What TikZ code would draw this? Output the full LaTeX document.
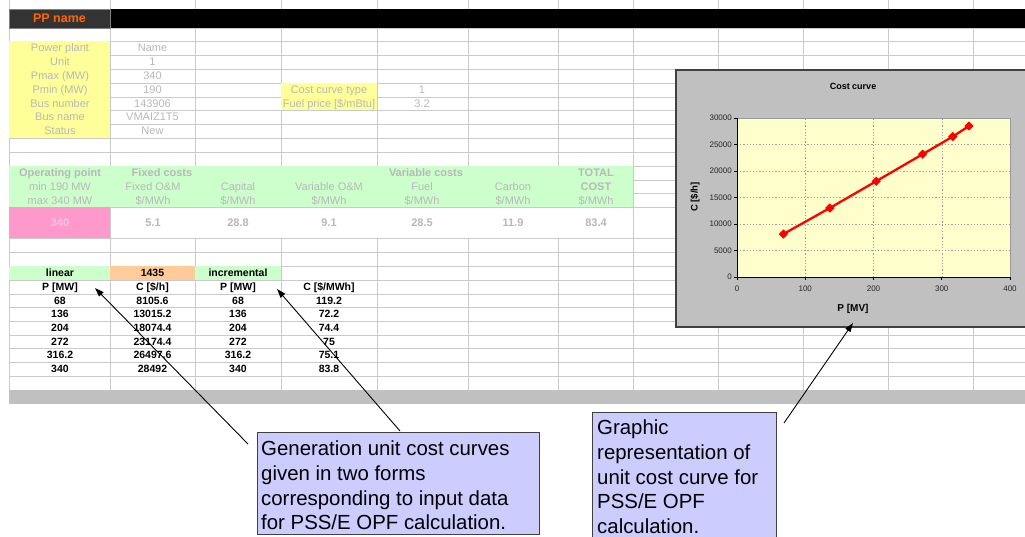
\documentclass[tikz,border=0pt]{standalone}
\usepackage{fontspec}
\setmainfont{Liberation Sans}
\usetikzlibrary{arrows.meta,shapes.geometric}

\definecolor{gridline}{HTML}{CACACA}
\definecolor{hdrgreen}{HTML}{CCFFCC}
\definecolor{paleyellow}{HTML}{FFFF99}
\definecolor{pinkcell}{HTML}{FF99CC}
\definecolor{pinktext}{HTML}{FFC4E2}
\definecolor{orangecell}{HTML}{FFCC99}
\definecolor{lavender}{HTML}{CCCCFF}
\definecolor{fadedtext}{HTML}{B8B8B8}
\definecolor{plotbg}{HTML}{FFFFCC}
\definecolor{chartgray}{HTML}{C0C0C0}
\definecolor{ppname}{HTML}{FF6600}
\definecolor{darkcell}{HTML}{333333}
\definecolor{boxedge}{HTML}{404040}
\definecolor{plotgrid}{HTML}{9A9A9A}

\tikzset{
  cell/.style={inner sep=0pt, text height=7.9pt, text depth=0pt,
    font=\fontsize{11}{13}\selectfont, text=fadedtext},
  cellbold/.style={cell, font=\fontsize{11}{13}\selectfont\bfseries},
  datacell/.style={inner sep=0pt, text height=7.6pt, text depth=0pt,
    font=\fontsize{10.5}{12}\selectfont\bfseries, text=black},
  ticklabel/.style={inner sep=0pt, font=\fontsize{8}{9}\selectfont, text=black!85},
  charttitle/.style={inner sep=0pt, font=\fontsize{9}{11}\selectfont\bfseries},
  callout/.style={draw=boxedge, line width=1pt, fill=lavender, inner sep=0pt, anchor=north west},
  callouttext/.style={inner sep=0pt, anchor=north west, align=left,
    font=\fontsize{20.4}{24.6}\selectfont},
  pointer/.style={draw=black, line width=0.9pt, -{Triangle[length=9pt,width=6pt]}},
  marker/.style={diamond, fill=red, inner sep=0pt, minimum size=9.5pt},
  sheetline/.style={draw=gridline, line width=0.8pt},
  plotgridline/.style={draw=plotgrid, line width=0.5pt, dash pattern=on 1.2pt off 2pt},
}

\begin{document}
\begin{tikzpicture}[x=1pt,y=-1pt]
\useasboundingbox (0,0) rectangle (1025,537);
\clip (0,0) rectangle (1025,537);
\fill[white] (0,0) rectangle (1025,537);

% ---------- spreadsheet grid ----------
\foreach \cx in {9,110,195,281,377,468,558,633,718,803,888,973}
  \draw[sheetline] (\cx,0) -- (\cx,390);
\foreach \ry in {28,41,55,69,83,97,110,124,138,152,166,180,193,207,238,252,266,280,294,307,321,335,348,362,376,390}
  \draw[sheetline] (9,\ry) -- (1025,\ry);

% ---------- cell fills ----------
\fill[black] (9,9) rectangle (1025,28);
\fill[paleyellow] (9,41) rectangle (110,138);
\fill[paleyellow] (281,83) rectangle (377,110);
\fill[hdrgreen] (9,166) rectangle (633,207);
\fill[white] (110.5,207.6) rectangle (632.5,237.6);
\fill[pinkcell] (9,207) rectangle (110,238);
\fill[hdrgreen] (9,266) rectangle (110,280);
\fill[orangecell] (110,266) rectangle (195,280);
\fill[hdrgreen] (195,266) rectangle (281,280);
\fill[chartgray] (9,390) rectangle (1025,404);

% ---------- title cell ----------
\node[draw=gray, fill=darkcell, minimum width=101pt, minimum height=19pt, inner sep=0pt,
  text=ppname, font=\fontsize{12.5}{14}\selectfont\bfseries] (ppName) at (59.5,18.5) {PP name};

% ---------- unit data ----------
\node[cell] (lPlant)  at (60,48)    {Power plant};
\node[cell] (lUnit)   at (60,62)    {Unit};
\node[cell] (lPmax)   at (60,76)    {Pmax (MW)};
\node[cell] (lPmin)   at (60,90)    {Pmin (MW)};
\node[cell] (lBusNo)  at (60,103.5) {Bus number};
\node[cell] (lBusNm)  at (60,117)   {Bus name};
\node[cell] (lStatus) at (60,131)   {Status};
\node[cell] (vPlant)  at (152.5,48)    {Name};
\node[cell] (vUnit)   at (152.5,62)    {1};
\node[cell] (vPmax)   at (152.5,76)    {340};
\node[cell] (vPmin)   at (152.5,90)    {190};
\node[cell] (vBusNo)  at (152.5,103.5) {143906};
\node[cell] (vBusNm)  at (152.5,117)   {VMAIZ1T5};
\node[cell] (vStatus) at (152.5,131)   {New};
\node[cell] (lCurve)  at (329,90)    {Cost curve type};
\node[cell] (lFuelPr) at (329,103.5) {Fuel price [\$/mBtu]};
\node[cell] (vCurve)  at (422,90)    {1};
\node[cell] (vFuelPr) at (422,103.5) {3.2};

% ---------- cost breakdown header ----------
\node[cellbold] (hOp)    at (60,173)  {Operating point};
\node[cell]     (hOpMin) at (60,187)  {min 190 MW};
\node[cell]     (hOpMax) at (60,201)  {max 340 MW};
\node[cellbold] (hFixed) at (162,173) {Fixed costs};
\node[cell]     (hFom)   at (153,187) {Fixed O\&M};
\node[cell]     (hFomU)  at (153,201) {\$/MWh};
\node[cell]     (hCap)   at (238,187) {Capital};
\node[cell]     (hCapU)  at (238,201) {\$/MWh};
\node[cell]     (hVom)   at (329,187) {Variable O\&M};
\node[cell]     (hVomU)  at (329,201) {\$/MWh};
\node[cellbold] (hVar)   at (426,173) {Variable costs};
\node[cell]     (hFuel)  at (422,187) {Fuel};
\node[cell]     (hFuelU) at (422,201) {\$/MWh};
\node[cell]     (hCarb)  at (513,187) {Carbon};
\node[cell]     (hCarbU) at (513,201) {\$/MWh};
\node[cellbold] (hTot)   at (596,173) {TOTAL};
\node[cellbold] (hTot2)  at (596,187) {COST};
\node[cell]     (hTotU)  at (596,201) {\$/MWh};

% ---------- cost breakdown values ----------
\node[cellbold, text=pinktext] (cOp) at (60,222.5) {340};
\node[cellbold] (cFom)  at (153,222.5) {5.1};
\node[cellbold] (cCap)  at (238,222.5) {28.8};
\node[cellbold] (cVom)  at (329,222.5) {9.1};
\node[cellbold] (cFuel) at (422,222.5) {28.5};
\node[cellbold] (cCarb) at (513,222.5) {11.9};
\node[cellbold] (cTot)  at (596,222.5) {83.4};

% ---------- cost curve tables ----------
\node[datacell] (tLinear) at (60,273)    {linear};
\node[datacell] (tCount)  at (152.5,273) {1435};
\node[datacell] (tIncr)   at (238,273)   {incremental};
\node[datacell] (tP1)     at (60,287)    {P [MW]};
\node[datacell] (tC1)     at (152.5,287) {C [\$/h]};
\node[datacell] (tP2)     at (238,287)   {P [MW]};
\node[datacell] (tC2)     at (329,287)   {C [\$/MWh]};
\foreach \k/\ty/\pa/\ca/\pb/\cb in {
    1/300.5/68/8105.6/68/119.2,
    2/314/136/13015.2/136/72.2,
    3/328/204/18074.4/204/74.4,
    4/341.5/272/23174.4/272/75,
    5/355/316.2/26497.6/316.2/75.1,
    6/369/340/28492/340/83.8}{
  \node[datacell] (linP\k) at (60,\ty)    {\pa};
  \node[datacell] (linC\k) at (152.5,\ty) {\ca};
  \node[datacell] (incP\k) at (238,\ty)   {\pb};
  \node[datacell] (incC\k) at (329,\ty)   {\cb};
}

% ---------- cost curve chart ----------
\draw[fill=chartgray, draw=boxedge, line width=1.5pt] (676,70) rectangle (1040,327);
\draw[fill=plotbg, draw=plotgrid, line width=0.6pt] (737,118) rectangle (1010,277);
\begin{scope}[shift={(737,277)}, x=0.6825pt, y=5.3pt]
  \foreach \gx in {100,200,300}
    \draw[plotgridline] (\gx,0) -- (\gx,30);
  \foreach \gy in {5,10,15,20,25}
    \draw[plotgridline] (0,\gy) -- (400,\gy);
  \draw[black, line width=0.7pt] (0,30) -- (0,0) -- (400,0);
  \foreach \gy/\lab in {0/0,5/5000,10/10000,15/15000,20/20000,25/25000,30/30000}{
    \draw[black, line width=0.6pt] (0,\gy) -- ++(-3pt,0);
    \node[ticklabel, anchor=east, xshift=-5pt] (yTick\gy) at (0,\gy) {\lab};
  }
  \foreach \gx in {0,100,200,300,400}{
    \draw[black, line width=0.6pt] (\gx,0) -- ++(0,-3pt);
    \node[ticklabel, anchor=north, yshift=-8.5pt] (xTick\gx) at (\gx,0) {\gx};
  }
  \foreach \i/\px/\py in {1/68/8.1056, 2/136/13.0152, 3/204/18.0744,
                          4/272/23.1744, 5/316.2/26.4976, 6/340/28.492}
    \node[marker] (pt\i) at (\px,\py) {};
  \draw[red, line width=2.3pt, line join=round]
    (pt1.center) -- (pt2.center) -- (pt3.center) -- (pt4.center) -- (pt5.center) -- (pt6.center);
\end{scope}
\node[charttitle] (chartTitle) at (853,86) {Cost curve};
\node[charttitle, rotate=90, font=\fontsize{9.5}{11}\selectfont\bfseries] (yAxisLbl) at (695,197) {C [\$/h]};
\node[charttitle, font=\fontsize{10}{12}\selectfont\bfseries] (xAxisLbl) at (853,309) {P [MV]};

% ---------- callouts ----------
\node[callout, minimum width=282pt, minimum height=102pt] (box1) at (257,432) {};
\node[callouttext] (box1text) at (261,441)
  {Generation unit cost curves\\given in two forms\\corresponding to input data\\for PSS/E OPF calculation.};
\node[callout, minimum width=184pt, minimum height=140pt] (box2) at (592,412) {};
\node[callouttext] (box2text) at (597,420)
  {Graphic\\representation of\\unit cost curve for\\PSS/E OPF\\calculation.};

\coordinate (tipLinear) at (95,288);
\coordinate (tipIncr)   at (277,289);
\coordinate (tipChart)  at (853,323);
\coordinate (tailA) at (248,444);
\coordinate (tailB) at (400,431);
\coordinate (tailC) at (784,423);
\draw[pointer] (tailA) -- (tipLinear);
\draw[pointer] (tailB) -- (tipIncr);
\draw[pointer] (tailC) -- (tipChart);
\end{tikzpicture}
\end{document}
